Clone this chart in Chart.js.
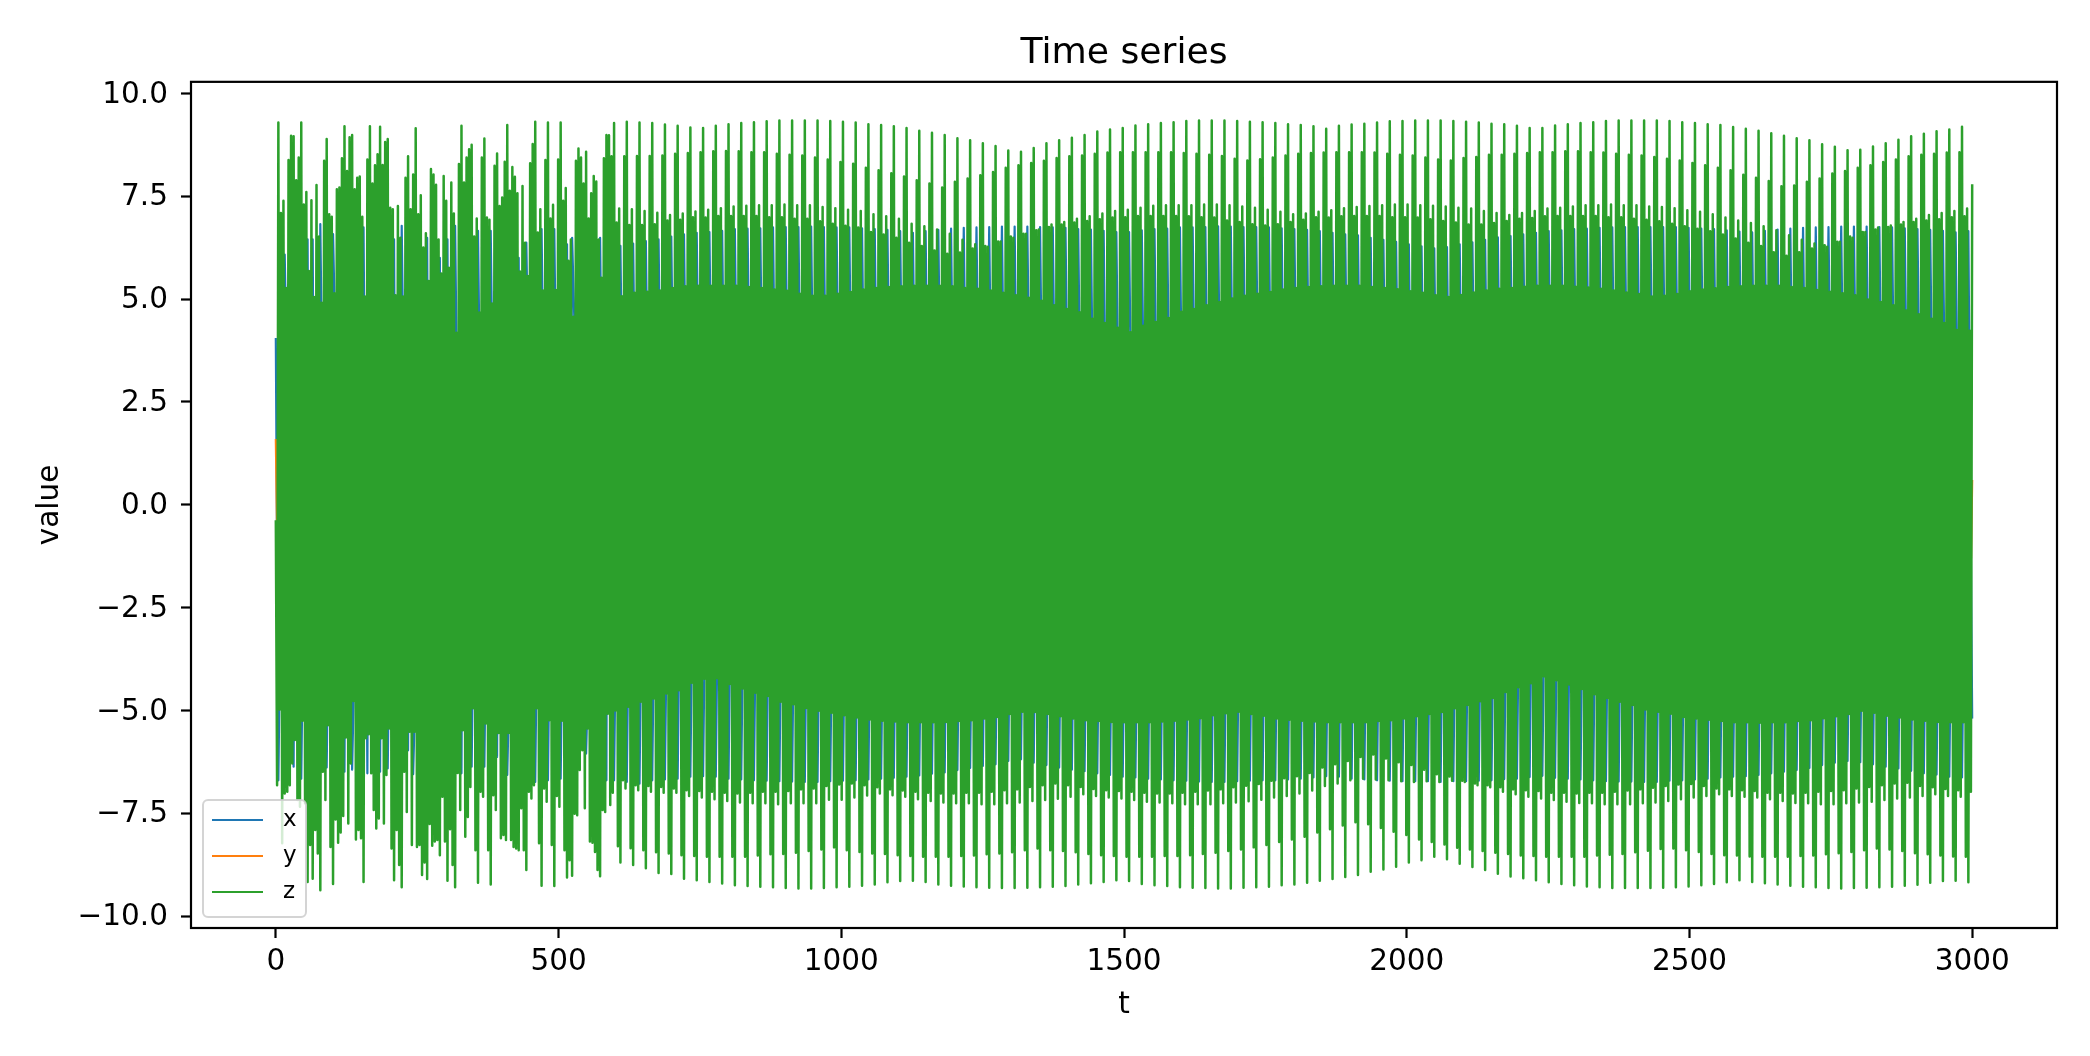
<!DOCTYPE html>
<html><head><meta charset="utf-8">
<style>html,body{margin:0;padding:0;background:#fff}canvas{display:block}</style>
<script src="https://cdn.jsdelivr.net/npm/chart.js@4"></script>
</head><body>
<canvas id="c" width="2090" height="1056"></canvas>
<script>
const seriesNames=['x','y','z'];
const xTickValues=[0,500,1000,1500,2000,2500,3000];
const yTickValues=[-10,-7.5,-5,-2.5,0,2.5,5,7.5,10];
const zStart=-0.38, xStart=4.05, zEnd=7.79;
const chaosTop=[9.29,7.09,7.39,5.27,8.38,8.97,8.96,7.89,8.44,9.29,7.3,7.6,5.68,7.4,5.05,7.77,6.52,4.91,8.36,8.89,7.06,7,5.14,7.67,7.71,8.42,9.2,8.11,8.93,8.99,7.67,7.95,7.98,7,5.06,8.39,9.2,7.81,8.25,8.52,9.19,8.26,8.82,8.89,7.22,7.18,5.09,7.26,6.49,5.06,7.95,8.47,7.18,8.03,9.15,7.06,7.52,6.25,6.6,5.44,8.16,8.03,7.78,6.45,5.62,7.99,7.39,5.76,7.83,7.08,4.18,8.28,9.21,7.83,8.44,8.64,8.75,6.52,6.96,4.67,8.44,8.9,6.98,6.93,4.89,8.24,8.54,7.26,7.47,8.34,9.23,7.63,8.21,7.97,7.57,5.67,7.75,6.37,5.56,8.3,8.77,9.31,6.62,7.18,5.21,8.38,9.29,6.96,7.29,5.22,8.39,9.29,7.39,7.7,5.93,6.45,4.57,8.36,8.66,8.44,7.81,8.58,6.96,7.57,7.99,7.86,6.45,5.52,8.42,8.99];
const chaosBottom=[-6.82,-4.98,-8.23,-7.02,-6.98,-6.82,-6.29,-5.72,-7.18,-7.34,-5.25,-7.26,-9.17,-8.27,-9.09,-7.91,-8.48,-9.37,-6.49,-7.18,-5.36,-8.32,-9.22,-7.65,-8.22,-7.97,-7.57,-5.66,-7.75,-6.29,-4.77,-8.14,-7.91,-8.11,-9.17,-5.68,-5.58,-6.53,-7.42,-7.87,-7.63,-5.68,-7.75,-6.57,-5.44,-8.36,-9.13,-7.91,-8.76,-9.3,-6.49,-7.47,-5.52,-8.27,-5.52,-8.32,-8.27,-9.0,-8.7,-9.1,-7.76,-8.29,-8.19,-8.15,-8.52,-7.1,-8.19,-9.14,-7.89,-8.76,-9.3,-6.52,-7.42,-5.48,-8.07,-7.59,-6.86,-4.95,-8.4,-9.19,-6.98,-7.1,-5.32,-8.4,-9.23,-7.06,-7.42,-5.55,-8.11,-8.03,-8.15,-5.55,-8.15,-8.32,-8.36,-8.4,-7.38,-8.4,-8.88,-6.98,-7.14,-6.82,-4.95,-8.23,-9.26,-6.9,-7.22,-5.24,-8.27,-9.27,-7.08,-7.34,-5.25,-8.4,-9.06,-8.64,-9.02,-7.51,-7.55,-6.45,-5.97,-7.38,-5.44,-8.19,-8.22,-8.44,-8.88,-9.03,-7.42,-7.47,-5.08];
const topPeak=[9.28,9.31,9.29,9.28,
9.24,9.21,9.17,9.16,9.21,9.25,9.28,9.30,9.32,9.34,9.34,9.34,9.34,9.33,9.31,9.29,9.25,9.23,9.20,9.16,9.09,9.04,8.99,8.91,8.86,8.79,8.72,8.61,8.58,8.67,8.79,8.86,8.92,8.99,9.07,9.12,9.16,9.22,
9.25,9.28,9.30,9.33,9.34,9.34,9.34,9.33,9.31,9.30,9.28,9.25,9.23,9.20,9.14,9.21,9.24,9.26,9.29,9.32,9.33,9.34,9.34,9.34,9.33,9.31,9.29,9.26,
9.25,9.21,9.16,9.16,9.22,9.25,9.28,9.30,9.33,9.34,9.34,9.34,9.34,9.33,9.30,9.28,9.25,9.23,9.18,9.14,9.09,9.03,8.97,8.91,8.86,8.76,8.70,8.62,8.63,8.71,8.79,8.87,8.96,9.02,9.08,9.12,9.19];
const topShoulder=[8.47,8.47,8.48,8.48,
8.49,8.53,8.55,8.57,8.59,8.60,8.59,8.57,8.57,8.53,8.51,8.49,8.44,8.39,8.33,8.29,8.19,8.13,8.06,7.98,7.89,7.81,7.71,7.85,7.93,8.01,8.09,8.19,8.25,8.31,8.36,8.43,8.47,8.49,8.53,8.56,8.57,8.57,
8.57,8.57,8.57,8.55,8.53,8.51,8.48,8.41,8.37,8.40,8.44,8.49,8.53,8.55,8.56,8.57,8.57,8.57,8.56,8.53,8.51,8.49,8.44,8.39,8.37,8.43,8.45,8.51,
8.51,8.53,8.55,8.57,8.57,8.59,8.59,8.57,8.56,8.53,8.51,8.49,8.45,8.41,8.37,8.31,8.25,8.19,8.13,8.02,7.95,7.87,7.74,7.76,7.85,7.93,8.05,8.11,8.19,8.25,8.33,8.39,8.47,8.51,8.53,8.56,8.57];
const topLowA=[6.86,6.80,6.80,6.82,
6.91,6.93,6.99,6.98,7.02,7.02,7.02,7.02,6.99,6.99,6.95,6.95,6.89,6.83,6.78,6.74,6.63,6.57,6.49,6.37,6.29,6.18,6.10,6.13,6.23,6.29,6.40,6.52,6.59,6.67,6.75,6.81,6.86,6.90,6.94,6.98,6.99,7.02,
7.02,7.02,7.02,7.01,6.99,6.98,6.91,6.87,6.82,6.79,6.82,6.87,6.93,6.99,6.98,7.01,7.02,7.02,7.02,6.99,6.99,6.98,6.94,6.90,6.86,6.81,6.81,6.85,
6.90,6.95,6.97,7.01,7.02,7.02,7.02,7.02,6.99,6.99,6.95,6.93,6.89,6.83,6.77,6.71,6.65,6.57,6.47,6.37,6.29,6.14,6.05,6.14,6.23,6.31,6.39,6.52,6.63,6.69,6.75,6.81,6.87,6.91,6.94,6.99,7.01];
const topLowB=[7.20,7.18,7.14,7.10,
7.04,7.08,7.13,7.17,7.21,7.25,7.27,7.28,7.28,7.30,7.28,7.28,7.24,7.21,7.17,7.14,7.06,7.01,6.95,6.83,6.77,6.69,6.59,6.44,6.33,6.27,6.40,6.49,6.59,6.69,6.81,6.87,6.95,7.01,7.08,7.14,7.17,7.22,
7.27,7.28,7.28,7.28,7.30,7.30,7.28,7.25,7.22,7.17,7.12,7.06,7.08,7.12,7.16,7.21,7.24,7.26,7.28,7.30,7.30,7.28,7.27,7.25,7.22,7.20,7.14,7.09,
7.04,7.09,7.14,7.20,7.22,7.25,7.28,7.28,7.30,7.28,7.28,7.25,7.24,7.21,7.16,7.12,7.06,6.98,6.91,6.85,6.77,6.67,6.55,6.44,6.35,6.27,6.39,6.49,6.63,6.74,6.79,6.87,6.95,7.04,7.09,7.14,7.20];
const topNotch=[8.98,5.07,5.15,5.18,5.21,
5.27,5.31,5.32,5.32,5.32,5.32,5.29,5.27,5.23,5.20,5.13,5.08,5.08,5.13,5.17,5.23,5.27,5.29,5.31,5.32,5.32,5.32,5.31,5.27,5.25,5.21,5.15,5.09,5.03,4.96,4.85,4.76,4.68,4.52,4.42,4.30,4.19,
4.35,4.44,4.54,4.69,4.76,4.85,4.93,5.01,5.08,5.13,5.17,5.23,5.27,5.29,5.31,5.32,5.32,5.32,5.29,5.27,5.24,5.19,5.15,5.09,5.05,5.10,5.16,5.21,5.25,
5.27,5.30,5.32,5.32,5.32,5.30,5.28,5.25,5.21,5.16,5.12,5.06,5.08,5.12,5.19,5.23,5.26,5.29,5.31,5.32,5.32,5.32,5.29,5.27,5.22,5.18,5.14,5.09,4.99,4.93,4.85,4.72,4.63,4.52,4.42,4.25,4.23];
const botPeak=[-8.70,-8.76,-8.84,-8.95,
-8.98,-9.09,-9.13,-9.17,-9.21,-9.25,-9.27,-9.29,-9.30,-9.32,-9.33,-9.33,-9.32,-9.30,-9.29,-9.26,-9.23,-9.18,-9.15,-9.14,-9.17,-9.23,-9.26,-9.28,-9.30,-9.31,-9.32,-9.32,-9.31,-9.30,-9.29,-9.27,-9.23,-9.20,-9.17,-9.13,-9.15,
-9.22,-9.25,-9.27,-9.30,-9.31,-9.32,-9.33,-9.33,-9.31,-9.30,-9.29,-9.25,-9.23,-9.19,-9.14,-9.10,-9.05,-9.00,-8.92,-8.87,-8.80,-8.70,-8.64,-8.56,-8.62,-8.73,-8.81,-8.88,-8.97,-9.04,-9.08,-9.13,
-9.18,-9.22,-9.25,-9.28,-9.30,-9.32,-9.32,-9.32,-9.32,-9.31,-9.30,-9.28,-9.25,-9.22,-9.18,-9.13,-9.17,-9.20,-9.23,-9.26,-9.29,-9.30,-9.32,-9.33,-9.32,-9.31,-9.30,-9.29,-9.26,-9.24,-9.19,-9.15,-9.14,-9.18];
const botShoulder=[-8.30,-8.35,-8.40,-8.45,
-8.48,-8.52,-8.54,-8.56,-8.56,-8.56,-8.56,-8.53,-8.50,-8.49,-8.46,-8.42,-8.38,-8.33,-8.40,-8.44,-8.48,-8.49,-8.52,-8.54,-8.56,-8.56,-8.56,-8.54,-8.53,-8.50,-8.48,-8.45,-8.40,-8.36,-8.40,-8.42,-8.45,-8.49,-8.52,-8.54,-8.56,
-8.56,-8.56,-8.54,-8.54,-8.52,-8.49,-8.46,-8.42,-8.38,-8.33,-8.27,-8.20,-8.14,-8.07,-7.97,-7.89,-7.80,-7.72,-7.77,-7.86,-7.95,-8.03,-8.14,-8.20,-8.26,-8.34,-8.38,-8.42,-8.46,-8.49,-8.53,-8.54,
-8.56,-8.56,-8.56,-8.56,-8.53,-8.51,-8.49,-8.45,-8.41,-8.37,-8.36,-8.40,-8.44,-8.49,-8.52,-8.53,-8.55,-8.56,-8.56,-8.56,-8.54,-8.53,-8.50,-8.47,-8.44,-8.40,-8.36,-8.38,-8.42,-8.47,-8.50,-8.53,-8.55,-8.56];
const botLowA=[-6.70,-6.82,-6.84,-6.86,
-6.90,-6.94,-6.96,-6.98,-7.00,-7.02,-7.00,-6.98,-6.98,-6.96,-6.92,-6.90,-6.84,-6.80,-6.78,-6.82,-6.87,-6.92,-6.95,-6.98,-7.00,-7.02,-7.02,-7.00,-7.00,-6.98,-6.94,-6.92,-6.86,-6.82,-6.78,-6.82,-6.86,-6.91,-6.94,-6.96,-6.98,
-7.00,-7.02,-7.02,-7.00,-6.98,-6.95,-6.92,-6.87,-6.83,-6.79,-6.71,-6.65,-6.60,-6.52,-6.39,-6.31,-6.23,-6.13,-6.07,-6.17,-6.26,-6.33,-6.44,-6.55,-6.61,-6.71,-6.78,-6.82,-6.87,-6.92,-6.94,-6.96,
-7.00,-7.00,-7.02,-7.00,-7.00,-6.98,-6.95,-6.92,-6.88,-6.84,-6.80,-6.79,-6.84,-6.90,-6.92,-6.94,-6.96,-7.00,-7.00,-7.02,-7.00,-6.98,-6.96,-6.94,-6.90,-6.86,-6.82,-6.78,-6.76,-6.84,-6.87,-6.91,-6.94,-6.98];
const botLowB=[-6.90,-6.94,-6.98,-7.00,
-7.00,-7.08,-7.12,-7.16,-7.20,-7.24,-7.26,-7.26,-7.28,-7.26,-7.26,-7.26,-7.17,-7.17,-7.12,-7.07,-7.02,-7.06,-7.10,-7.16,-7.20,-7.24,-7.26,-7.26,-7.28,-7.28,-7.26,-7.24,-7.20,-7.18,-7.15,-7.10,-7.04,-7.08,-7.12,-7.14,-7.18,
-7.22,-7.24,-7.26,-7.28,-7.28,-7.28,-7.26,-7.24,-7.21,-7.17,-7.12,-7.08,-7.02,-6.95,-6.84,-6.78,-6.70,-6.66,-6.68,-6.70,-6.72,-6.74,-6.72,-6.74,-6.71,-6.74,-6.82,-6.87,-6.98,-7.04,-7.10,-7.14,
-7.18,-7.22,-7.25,-7.26,-7.28,-7.28,-7.28,-7.26,-7.24,-7.20,-7.16,-7.12,-7.08,-7.04,-7.08,-7.10,-7.12,-7.16,-7.20,-7.25,-7.26,-7.28,-7.28,-7.26,-7.24,-7.22,-7.18,-7.14,-7.12,-7.08,-7.04,-7.08,-7.10,-7.16];
const botLowBefore=[-7.30,-7.00];
const botNotch=[-5.00,-4.91,-4.79,-4.71,
-4.59,-4.51,-4.33,-4.23,-4.22,-4.36,-4.47,-4.57,-4.65,-4.79,-4.85,-4.94,-5.01,-5.06,-5.12,-5.17,-5.22,-5.25,-5.27,-5.29,-5.29,-5.29,-5.28,-5.26,-5.24,-5.20,-5.16,-5.09,-5.03,-5.04,-5.09,-5.14,-5.20,-5.24,-5.26,-5.28,-5.29,-5.29,
-5.29,-5.27,-5.25,-5.22,-5.19,-5.12,-5.07,-5.03,-5.09,-5.13,-5.20,-5.23,-5.25,-5.27,-5.29,-5.29,-5.29,-5.29,-5.26,-5.24,-5.20,-5.14,-5.09,-5.04,-4.95,-4.87,-4.78,-4.70,-4.55,-4.44,-4.34,
-4.17,-4.27,-4.37,-4.48,-4.61,-4.70,-4.79,-4.87,-4.98,-5.03,-5.08,-5.16,-5.20,-5.23,-5.26,-5.29,-5.29,-5.30,-5.29,-5.29,-5.26,-5.24,-5.19,-5.14,-5.09,-5.01,-5.06,-5.13,-5.17,-5.22,-5.25,-5.28,-5.29,-5.29];
const xTop=[6.49,6.29,6.35,6.41,6.45,
6.52,6.57,6.61,6.63,6.66,6.70,6.71,6.72,6.74,6.75,6.75,6.76,6.75,6.74,6.74,6.72,6.70,6.68,6.65,6.61,6.65,6.68,6.71,6.73,6.74,6.75,6.76,6.76,6.76,6.75,6.74,6.73,6.70,6.69,6.66,6.63,6.63,
6.67,6.70,6.71,6.74,6.74,6.75,6.77,6.76,6.75,6.75,6.74,6.72,6.70,6.68,6.65,6.61,6.57,6.55,6.49,6.44,6.39,6.33,6.28,6.23,6.26,6.33,6.38,6.44,6.50,
6.53,6.57,6.61,6.65,6.67,6.70,6.71,6.73,6.74,6.75,6.75,6.75,6.75,6.75,6.73,6.71,6.70,6.67,6.64,6.62,6.66,6.69,6.71,6.73,6.74,6.75,6.76,6.76,6.76,6.75,6.74,6.72,6.70,6.68,6.66,6.62,6.65];
const xBot=[-6.70,-6.74,-6.78,-6.70,
-6.68,-6.66,-6.61,-6.60,-6.61,-6.66,-6.68,-6.70,-6.71,-6.72,-6.73,-6.74,-6.74,-6.72,-6.71,-6.70,-6.68,-6.66,-6.64,-6.61,-6.58,-6.54,-6.51,-6.45,-6.40,-6.35,-6.31,-6.23,-6.19,-6.27,-6.33,-6.39,-6.44,-6.48,-6.53,-6.57,-6.61,-6.63,
-6.66,-6.68,-6.70,-6.71,-6.73,-6.74,-6.74,-6.72,-6.71,-6.70,-6.70,-6.68,-6.66,-6.63,-6.60,-6.61,-6.66,-6.68,-6.70,-6.71,-6.72,-6.72,-6.72,-6.74,-6.72,-6.72,-6.71,-6.70,-6.67,-6.66,-6.62,
-6.59,-6.64,-6.66,-6.68,-6.70,-6.72,-6.73,-6.73,-6.74,-6.74,-6.71,-6.70,-6.68,-6.66,-6.63,-6.61,-6.60,-6.57,-6.53,-6.49,-6.45,-6.40,-6.33,-6.27,-6.23,-6.26,-6.31,-6.37,-6.41,-6.47,-6.53,-6.56,-6.61,-6.63];
const xChaosTopAt=[4,13,15,18,23,35,47,50,60,65,68,71,80,85,96,99,105,110,115,117,128];
const xChaosTopVal=[6.08,6.45,6.45,6.82,6.58,6.74,6.45,6.78,6.49,6.0,6.45,6.78,6.66,6.66,6.0,6.37,6.7,6.7,6.33,6.49,6.49];
const xChaosBotAt=[2,8,11,21,28,31,37,42,45,53,55,74,78,83,88,92,103,108,113,123,131];
const xChaosBotVal=[-6.7,-6.37,-6.66,-6.39,-6.49,-6.44,-6.53,-6.49,-6.41,-5.97,-6.55,-6.53,-6.37,-6.37,-6.13,-6.57,-6.74,-6.7,-6.66,-6.05,-6.7];
const xEnd=-5.2;
const yTimes=[0,2,150,300,450,600,750,900,1050,1200,1350,1500,1650,1800,1950,2100,2250,2400,2550,2700,2850,2998,3000];
const yValues=[1.6,-0.4,2.4,-2.1,1.8,-2.6,2.9,-1.7,2.2,-2.8,1.5,-2.3,2.7,-1.9,2.4,-2.5,1.7,-2.2,2.6,-1.8,2.3,-1.3,0.6];

const R=107;
[['topPeak',topPeak],['topShoulder',topShoulder],['topLowA',topLowA],['topLowB',topLowB],['botPeak',botPeak],['botShoulder',botShoulder],['botLowA',botLowA],['botLowB',botLowB],['botNotch',botNotch],['xBot',xBot]].forEach(([n,a])=>{if(a.length!==R)throw new Error(n+' len '+a.length)});
[['topNotch',topNotch],['xTop',xTop]].forEach(([n,a])=>{if(a.length!==R+1)throw new Error(n+' len '+a.length)});
if(chaosTop.length!==130)throw new Error('chaosTop '+chaosTop.length);
if(chaosBottom.length!==131)throw new Error('chaosBottom '+chaosBottom.length);

// z samples alternate between an upper and a lower extreme
const zSamples=[zStart];
for(let k=0;k<131;k++){zSamples.push(chaosBottom[k]);if(k<130)zSamples.push(chaosTop[k]);}
for(let r=0;r<R;r++){
  zSamples.push(topNotch[r], r?botLowA[r-1]:botLowBefore[0], topShoulder[r], r?botLowB[r-1]:botLowBefore[1],
    topPeak[r], botNotch[r], topLowA[r], botShoulder[r], topLowB[r], botPeak[r]);
}
zSamples.push(topNotch[R],botLowA[R-1],zEnd);
const dt=3000/(zSamples.length-1);
const zData=zSamples.map((v,i)=>({x:i*dt,y:v}));

// x is only visible through the gaps of z
const spikes=[];
xChaosTopAt.forEach((j,n)=>spikes.push([2*j-1,xChaosTopVal[n]]));
xChaosBotAt.forEach((k,n)=>spikes.push([2*k-2,xChaosBotVal[n]]));
for(let r=0;r<=R;r++){
  const base=262+10*r;
  spikes.push([base-1,xTop[r]]);
  if(r<R)spikes.push([base+4,xBot[r]]);
}
spikes.sort((a,b)=>a[0]-b[0]);
const xData=[{x:0,y:xStart}];
spikes.forEach(([i,v])=>{
  const prev=xData[xData.length-1];
  if(prev.y*v>0){xData.push({x:prev.x+dt,y:0},{x:i*dt-dt,y:0});}
  xData.push({x:i*dt,y:v});
});
xData.push({x:3000,y:xEnd});
const yData=yTimes.map((t,i)=>({x:t,y:yValues[i]}));

const FONT='"DejaVu Sans"';
Chart.defaults.color='#000';
Chart.defaults.font.family=FONT;
const colors=['#1f77b4','#ff7f0e','#2ca02c'];
const frame={id:'frame',
  beforeLayout(chart){
    const lg=chart.legend;
    lg._layers=()=>[{z:1,draw(){
      const c=chart.ctx;
      c.save();
      c.beginPath();c.roundRect(203,800,103,117,5);
      c.fillStyle='rgba(255,255,255,0.8)';c.fill();
      c.lineWidth=2;c.strokeStyle='rgba(204,204,204,0.85)';c.stroke();
      colors.forEach((col,i)=>{c.beginPath();c.moveTo(212,820+36*i);c.lineTo(263,820+36*i);c.strokeStyle=col;c.lineWidth=2;c.stroke();});
      c.restore();
      lg.left=199;lg.top=796;lg.right=306;lg.bottom=926;
      lg.draw();
    }}];
  },
  afterDraw(chart){
    const a=chart.chartArea,c=chart.ctx;
    c.save();c.strokeStyle='#000';c.lineWidth=2.2;c.strokeRect(a.left,a.top,a.right-a.left,a.bottom-a.top);c.restore();
  }
};
new Chart(document.getElementById('c'),{
  type:'line',
  plugins:[frame],
  data:{datasets:[
    {label:seriesNames[0],data:xData,borderColor:colors[0],backgroundColor:colors[0],borderWidth:2.2,order:3},
    {label:seriesNames[1],data:yData,borderColor:colors[1],backgroundColor:colors[1],borderWidth:2.2,order:2},
    {label:seriesNames[2],data:zData,borderColor:colors[2],backgroundColor:colors[2],borderWidth:2.5,order:1}
  ]},
  options:{
    responsive:false,animation:false,devicePixelRatio:1,parsing:false,normalized:true,
    events:[],
    elements:{point:{radius:0},line:{tension:0,borderJoinStyle:'round',borderCapStyle:'butt'}},
    layout:{padding:{left:0,right:33,top:0,bottom:0}},
    plugins:{
      tooltip:{enabled:false},
      title:{display:true,fullSize:false,text:'Time series',font:{size:36.2,weight:'normal',family:FONT,lineHeight:1.2},padding:{top:31.6,bottom:6.8},color:'#000'},
      legend:{display:true,position:'chartArea',align:'start',
        labels:{boxWidth:59.5,boxHeight:2,padding:13,font:{size:23,family:FONT},color:'#000',
          sort:(a,b)=>a.datasetIndex-b.datasetIndex,
          generateLabels:(chart)=>chart.data.datasets.map((d,i)=>({text:d.label,datasetIndex:i,fillStyle:'rgba(0,0,0,0)',strokeStyle:'rgba(0,0,0,0)',lineWidth:0,hidden:false}))}}
    },
    scales:{
      x:{type:'linear',min:-150,max:3150,
        afterFit:s=>{s.height=128;},
        afterBuildTicks:s=>{s.ticks=xTickValues.map(v=>({value:v}));},
        grid:{display:true,drawOnChartArea:false,drawTicks:true,tickLength:10,tickWidth:2.2,tickColor:'#000'},
        border:{display:false},
        ticks:{autoSkip:false,maxRotation:0,padding:7,font:{size:29.5,family:FONT},color:'#000',callback:v=>String(v)},
        title:{display:true,text:'t',font:{size:29.5,family:FONT,lineHeight:1.2},padding:{top:0,bottom:33},color:'#000'}},
      y:{type:'linear',min:-10.29,max:10.28,
        afterFit:s=>{s.width=191;},
        afterBuildTicks:s=>{s.ticks=yTickValues.map(v=>({value:v}));},
        grid:{display:true,drawOnChartArea:false,drawTicks:true,tickLength:10,tickWidth:2.2,tickColor:'#000'},
        border:{display:false},
        ticks:{autoSkip:false,padding:13,labelOffset:1.5,font:{size:29.5,family:FONT},color:'#000',callback:v=>v.toFixed(1).replace('-','\u2212')},
        title:{display:true,text:'value',font:{size:29.5,family:FONT,lineHeight:1.2},padding:{top:33,bottom:0},color:'#000'}}
    }
  }
});
</script>
</body></html>
